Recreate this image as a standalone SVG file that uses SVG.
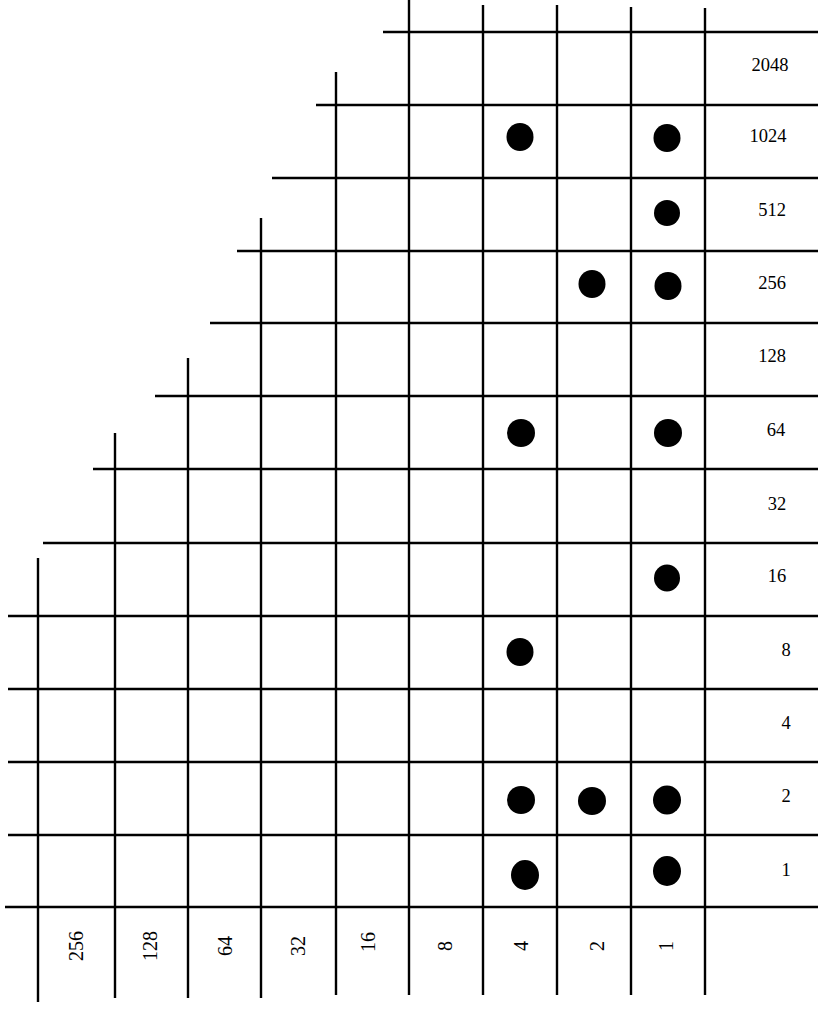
<svg xmlns="http://www.w3.org/2000/svg" width="818" height="1010" viewBox="0 0 818 1010">
<style>
.ln{stroke:#000;stroke-width:2.4;fill:none;stroke-linecap:butt}
.lb{font-family:"Liberation Serif","Times New Roman",serif;font-size:18.5px;fill:#000;text-anchor:middle}
.cl{font-family:"Liberation Serif","Times New Roman",serif;font-size:20px;fill:#000;text-anchor:middle}
.dt{fill:#000}
</style>
<rect width="818" height="1010" fill="#fff"/>
<g id="grid">
<g id="hlines">
<line class="ln" x1="383" y1="32" x2="818" y2="32"/>
<line class="ln" x1="316" y1="105" x2="818" y2="105"/>
<line class="ln" x1="272" y1="178" x2="818" y2="178"/>
<line class="ln" x1="237" y1="251" x2="818" y2="251"/>
<line class="ln" x1="210" y1="323" x2="818" y2="323"/>
<line class="ln" x1="155" y1="396" x2="818" y2="396"/>
<line class="ln" x1="93" y1="469" x2="818" y2="469"/>
<line class="ln" x1="43" y1="543" x2="818" y2="543"/>
<line class="ln" x1="8" y1="616" x2="818" y2="616"/>
<line class="ln" x1="8" y1="689" x2="818" y2="689"/>
<line class="ln" x1="8" y1="762" x2="818" y2="762"/>
<line class="ln" x1="8" y1="835" x2="818" y2="835"/>
<line class="ln" x1="5" y1="907" x2="818" y2="907"/>
</g>
<g id="vlines">
<line class="ln" x1="38" y1="558" x2="38" y2="1002"/>
<line class="ln" x1="115" y1="433" x2="115" y2="998"/>
<line class="ln" x1="188" y1="358" x2="188" y2="998"/>
<line class="ln" x1="261" y1="218" x2="261" y2="998"/>
<line class="ln" x1="336" y1="72" x2="336" y2="995"/>
<line class="ln" x1="409" y1="0" x2="409" y2="995"/>
<line class="ln" x1="483" y1="5" x2="483" y2="995"/>
<line class="ln" x1="557" y1="5" x2="557" y2="995"/>
<line class="ln" x1="631" y1="7" x2="631" y2="995"/>
<line class="ln" x1="705" y1="8" x2="705" y2="995"/>
</g>
</g>
<g id="row-labels">
<text class="lb" x="770" y="71">2048</text>
<text class="lb" x="768" y="142">1024</text>
<text class="lb" x="772" y="216">512</text>
<text class="lb" x="772" y="289">256</text>
<text class="lb" x="772" y="362">128</text>
<text class="lb" x="776" y="436">64</text>
<text class="lb" x="777" y="510">32</text>
<text class="lb" x="777" y="582">16</text>
<text class="lb" x="786" y="656">8</text>
<text class="lb" x="786" y="729">4</text>
<text class="lb" x="786" y="802">2</text>
<text class="lb" x="786" y="876">1</text>
</g>
<g id="col-labels">
<text class="cl" transform="translate(83,946) rotate(-90)">256</text>
<text class="cl" transform="translate(157,946) rotate(-90)">128</text>
<text class="cl" transform="translate(232,946) rotate(-90)">64</text>
<text class="cl" transform="translate(305,946) rotate(-90)">32</text>
<text class="cl" transform="translate(375,942) rotate(-90)">16</text>
<text class="cl" transform="translate(452,946) rotate(-90)">8</text>
<text class="cl" transform="translate(528,946) rotate(-90)">4</text>
<text class="cl" transform="translate(604,946) rotate(-90)">2</text>
<text class="cl" transform="translate(673,946) rotate(-90)">1</text>
</g>
<g id="dots">
<ellipse class="dt" cx="520" cy="137" rx="13.5" ry="14"/>
<ellipse class="dt" cx="667" cy="138" rx="13.5" ry="14"/>
<ellipse class="dt" cx="667" cy="213" rx="13" ry="13"/>
<ellipse class="dt" cx="592" cy="284" rx="13.5" ry="14"/>
<ellipse class="dt" cx="668" cy="286" rx="13.5" ry="14"/>
<ellipse class="dt" cx="521" cy="433" rx="14" ry="14"/>
<ellipse class="dt" cx="668" cy="433" rx="14" ry="14"/>
<ellipse class="dt" cx="667" cy="578" rx="13" ry="13.5"/>
<ellipse class="dt" cx="520" cy="652" rx="13.5" ry="14"/>
<ellipse class="dt" cx="521" cy="800" rx="14" ry="14"/>
<ellipse class="dt" cx="592" cy="801" rx="14" ry="14"/>
<ellipse class="dt" cx="667" cy="800" rx="14" ry="14.5"/>
<ellipse class="dt" cx="525" cy="875" rx="14" ry="15"/>
<ellipse class="dt" cx="667" cy="871" rx="14" ry="15"/>
</g>
</svg>
